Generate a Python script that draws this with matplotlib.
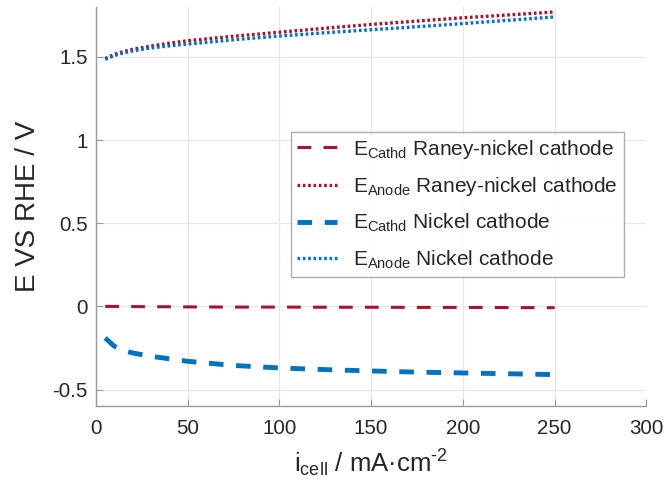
import matplotlib
matplotlib.use('Agg')
import matplotlib.pyplot as plt

plt.rcParams['font.family'] = ['Liberation Sans', 'DejaVu Sans']
plt.rcParams['mathtext.fontset'] = 'custom'
plt.rcParams['mathtext.rm'] = 'Liberation Sans'
plt.rcParams['mathtext.it'] = 'Liberation Sans'

# current density / mA cm-2
i_cell = [5, 10, 15, 20, 30, 40, 50, 75, 100, 125, 150, 175, 200, 225, 250]

# potentials vs RHE / V
cathd_raney = [0.0, 0.0, -0.001, -0.001, -0.002, -0.002, -0.003, -0.004,
               -0.004, -0.005, -0.005, -0.006, -0.006, -0.007, -0.008]
anode_raney = [1.49, 1.515, 1.532, 1.545, 1.565, 1.582, 1.597, 1.624,
               1.648, 1.672, 1.695, 1.715, 1.735, 1.752, 1.77]
cathd_nickel = [-0.19, -0.24, -0.265, -0.28, -0.30, -0.315, -0.33, -0.355,
                -0.37, -0.38, -0.388, -0.395, -0.40, -0.405, -0.41]
anode_nickel = [1.485, 1.508, 1.524, 1.536, 1.554, 1.566, 1.577, 1.603,
                1.625, 1.645, 1.663, 1.681, 1.70, 1.72, 1.74]

labels = [r'E$_{\mathrm{Cathd}}$ Raney-nickel cathode',
          r'E$_{\mathrm{Anode}}$ Raney-nickel cathode',
          r'E$_{\mathrm{Cathd}}$ Nickel cathode',
          r'E$_{\mathrm{Anode}}$ Nickel cathode']

red = '#A2142F'
blue = '#0072BD'

fig = plt.figure(figsize=(6.67, 4.96), dpi=100)
ax = fig.add_axes([0.144, 0.181, 0.825, 0.805])

ax.plot(i_cell, cathd_raney, color=red, lw=2.2, dashes=(4.5, 4), label=labels[0])
ax.plot(i_cell, anode_raney, color=red, lw=2.4, dashes=(0.8, 0.8), label=labels[1])
ax.plot(i_cell, cathd_nickel, color=blue, lw=3.5, dashes=(3.0, 2.6), label=labels[2])
ax.plot(i_cell, anode_nickel, color=blue, lw=2.4, dashes=(0.8, 0.8), label=labels[3])

ax.set_xlim(0, 300)
ax.set_ylim(-0.6, 1.8)
ax.set_xticks([0, 50, 100, 150, 200, 250, 300])
ax.set_yticks([-0.5, 0, 0.5, 1, 1.5])
ax.set_yticklabels(['-0.5', '0', '0.5', '1', '1.5'])

ax.grid(True, color='#e6e6e6', lw=0.8)
ax.set_axisbelow(True)
for s in ['top', 'right']:
    ax.spines[s].set_visible(False)
for s in ['left', 'bottom']:
    ax.spines[s].set_color('#9a9a9a')
    ax.spines[s].set_linewidth(1.0)
ax.tick_params(direction='in', length=5, color='#9a9a9a', labelsize=14.8,
               labelcolor='#262626')
ax.tick_params(axis='x', pad=9)
ax.tick_params(axis='y', pad=6)

ax.set_xlabel('i$_{\\mathrm{cell}}$ / mA\u00b7cm$^{\\mathrm{\u2010}2}$', fontsize=18.5,
              color='#262626', labelpad=7)
ax.set_ylabel('E VS RHE / V', fontsize=20, color='#262626', labelpad=8)

leg = ax.legend(loc='upper left', bbox_to_anchor=(0.354, 0.688), fontsize=15,
                frameon=True, fancybox=False, handlelength=1.9, handletextpad=0.8,
                borderpad=0.3, labelspacing=0.68, borderaxespad=0)
leg.get_frame().set_edgecolor('#9a9a9a')
leg.get_frame().set_linewidth(1.0)
for t in leg.get_texts():
    t.set_color('#262626')

fig.savefig('out.png', dpi=100)
